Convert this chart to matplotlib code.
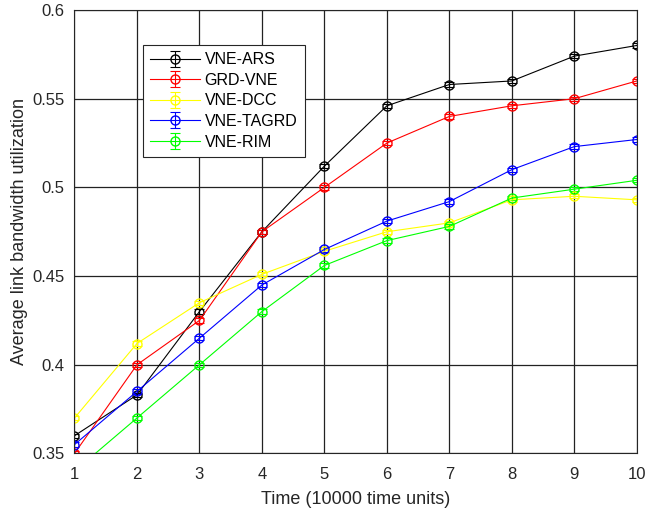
import numpy as np
import matplotlib
matplotlib.use('Agg')
import matplotlib.pyplot as plt

plt.rcParams['font.family'] = ['Liberation Sans', 'DejaVu Sans']

# time in units of 10000
time_pts = [1, 2, 3, 4, 5, 6, 7, 8, 9, 10]

vne_ars = [0.360, 0.383, 0.430, 0.475, 0.512, 0.546, 0.558, 0.560, 0.574, 0.580]
grd_vne = [0.350, 0.400, 0.425, 0.475, 0.500, 0.525, 0.540, 0.546, 0.550, 0.560]
vne_dcc = [0.370, 0.412, 0.435, 0.451, 0.464, 0.475, 0.480, 0.493, 0.495, 0.493]
vne_tagrd = [0.355, 0.385, 0.415, 0.445, 0.465, 0.481, 0.492, 0.510, 0.523, 0.527]
vne_rim = [0.340, 0.370, 0.400, 0.430, 0.456, 0.470, 0.478, 0.494, 0.499, 0.504]

names = ['VNE-ARS', 'GRD-VNE', 'VNE-DCC', 'VNE-TAGRD', 'VNE-RIM']
colors = ['#000000', '#FF0000', '#FFFF00', '#0000FF', '#00FF00']
err = 0.0012

fig = plt.figure(figsize=(6.71, 5.13), dpi=100)
ax = fig.add_axes([0.111, 0.116, 0.838, 0.8645])

for ys, nm, c in zip([vne_ars, grd_vne, vne_dcc, vne_tagrd, vne_rim], names, colors):
    ax.errorbar(time_pts, ys, yerr=err, color=c, marker='o', markersize=6.5,
                markerfacecolor='none', markeredgecolor=c, linewidth=0.8,
                elinewidth=0.8, capsize=3.5, capthick=0.8, label=nm, clip_on=True)

ax.set_xlim(1, 10)
ax.set_ylim(0.35, 0.6)
ax.set_xticks(time_pts)
ax.set_yticks([0.35, 0.4, 0.45, 0.5, 0.55, 0.6])
ax.set_yticklabels(['0.35', '0.4', '0.45', '0.5', '0.55', '0.6'])
ax.tick_params(labelsize=12, length=0, colors='#262626')
ax.tick_params(axis='x', pad=10)
ax.tick_params(axis='y', pad=7)
ax.grid(True, color='#222222', linewidth=0.9)
ax.set_axisbelow(True)
for s in ax.spines.values():
    s.set_color('#262626')
    s.set_linewidth(0.8)

ax.set_xlabel('Time (10000 time units)', fontsize=13, color='#262626', labelpad=6)
ax.set_ylabel('Average link bandwidth utilization', fontsize=13, color='#262626', labelpad=3)

leg = ax.legend(loc='upper left', bbox_to_anchor=(0.122, 0.921), fontsize=11.5,
                frameon=True, fancybox=False, edgecolor='#262626', framealpha=1,
                handlelength=3.1, borderpad=0.45, labelspacing=0.35, handletextpad=0.3,
                borderaxespad=0)
leg.get_frame().set_linewidth(0.8)

fig.savefig('out.png', dpi=100)
